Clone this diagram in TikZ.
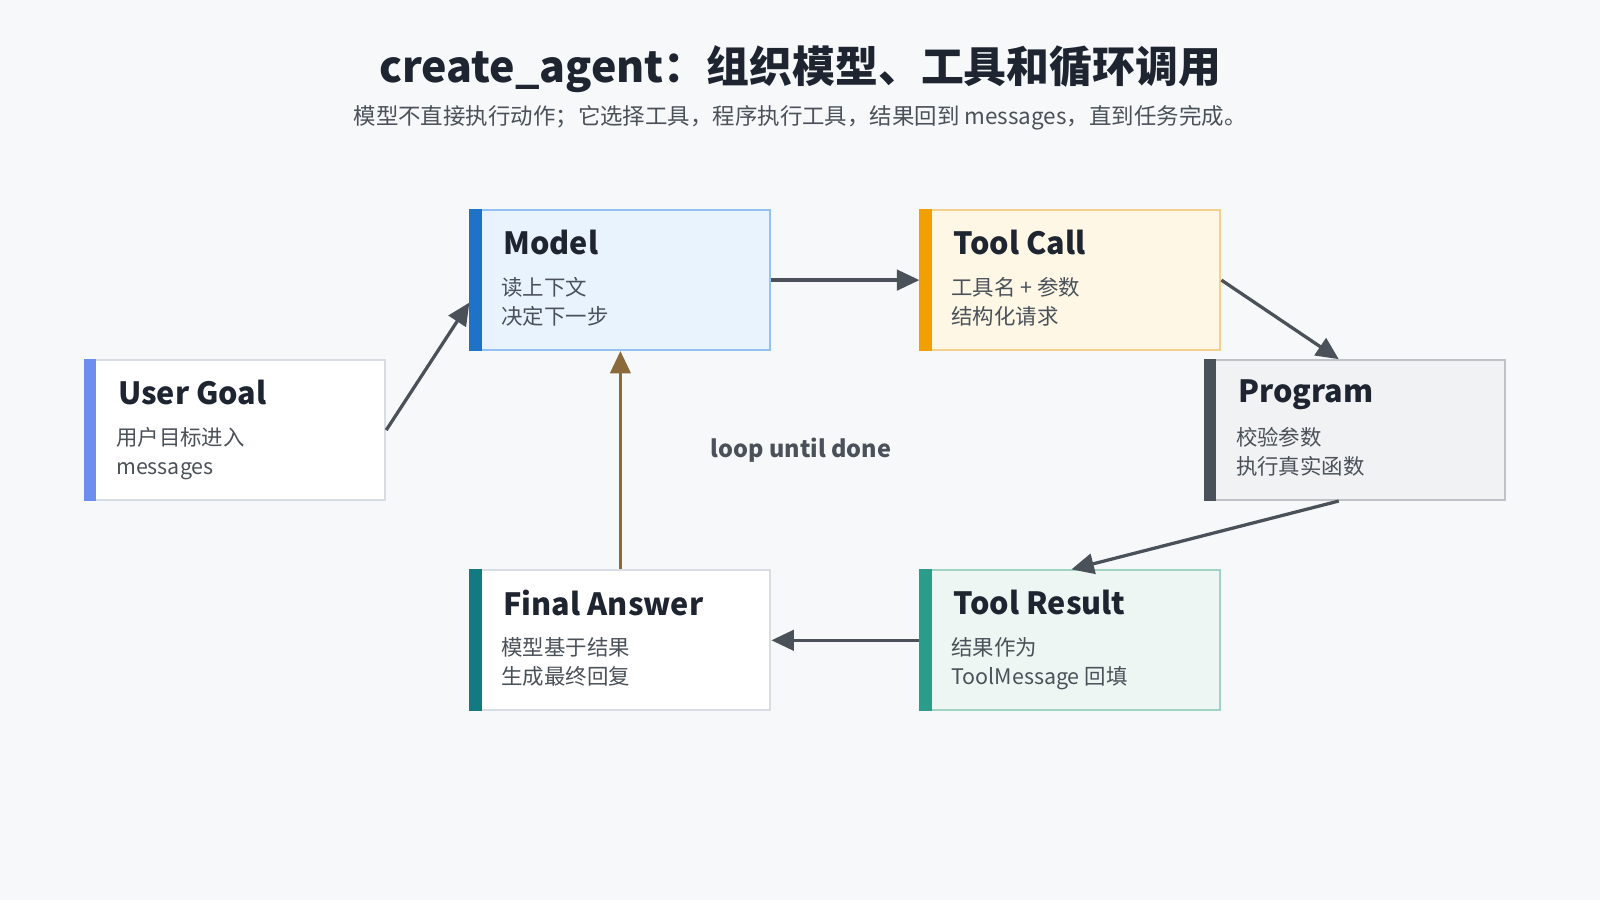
\documentclass[tikz,border=0pt]{standalone}
\usepackage{fontspec}
\setmainfont{Noto Sans CJK SC}
\usetikzlibrary{calc,arrows.meta}
\definecolor{bg}{HTML}{F6F8FA}
\definecolor{ink}{HTML}{1F2530}
\definecolor{sub}{HTML}{4A5159}
\definecolor{arr}{HTML}{4A5159}
\definecolor{brn}{HTML}{8A6A3A}
\begin{document}
\begin{tikzpicture}[x=0.5pt,y=-0.5pt,
  box/.style={draw,line width=1pt,minimum width=147pt,minimum height=68.5pt,inner sep=0pt},
  ttl/.style={anchor=north west,font=\fontsize{15}{17}\selectfont\bfseries,text=ink,inner sep=0pt},
  bdy/.style={anchor=north west,font=\fontsize{10.5}{14.5}\selectfont,text=sub,inner sep=0pt,align=left},
  con/.style={draw=arr,line width=1.6pt,-{Triangle[length=11pt,width=10pt]}}]
\fill[bg] (0,0) rectangle (1568,882);
\useasboundingbox (0,0) rectangle (1568,882);
\node[font=\fontsize{21}{24}\selectfont\bfseries,text=ink] (t) at (784,68) {create\_agent：组织模型、工具和循环调用};
\node[font=\fontsize{11}{13}\selectfont,text=sub] (s) at (784,115) {模型不直接执行动作；它选择工具，程序执行工具，结果回到 messages，直到任务完成。};
% boxes: name, center, fill, border, accent, title, body
\newcommand\mybox[8]{%
  \node[box,fill=#3,draw=#4] (#1) at (#2) {};
  \fill[#5] (#1.north west) rectangle ($(#1.south west)+(12,0)$);
  \node[ttl] (#1t) at ($(#1.north west)+(33,20)$) {#6};
  \node[bdy] (#1b) at ($(#1.north west)+(31,66)$) {#7\\#8};}
\definecolor{mF}{HTML}{E8F3FE}\definecolor{mB}{HTML}{94C2F0}\definecolor{mA}{HTML}{1E73C8}
\definecolor{cF}{HTML}{FEF7E6}\definecolor{cB}{HTML}{F3D08C}\definecolor{cA}{HTML}{F0A000}
\definecolor{pF}{HTML}{F1F2F4}\definecolor{pB}{HTML}{BFC3C8}\definecolor{pA}{HTML}{4A5159}
\definecolor{rF}{HTML}{EDF6F2}\definecolor{rB}{HTML}{A0D4C2}\definecolor{rA}{HTML}{2A9D8A}
\definecolor{fB}{HTML}{D8DDE3}\definecolor{fA}{HTML}{127A80}
\definecolor{uA}{HTML}{6B8EF0}
\mybox{ug}{230.5,421.5}{white}{fB}{uA}{User Goal}{用户目标进入}{messages}
\mybox{m}{608,274.5}{mF}{mB}{mA}{Model}{读上下文}{决定下一步}
\mybox{tc}{1049,274.5}{cF}{cB}{cA}{Tool Call}{工具名 + 参数}{结构化请求}
\mybox{p}{1328,421.5}{pF}{pB}{pA}{Program}{校验参数}{执行真实函数}
\mybox{tr}{1049,627.5}{rF}{rB}{rA}{Tool Result}{结果作为}{ToolMessage 回填}
\mybox{fa}{608,627.5}{white}{fB}{fA}{Final Answer}{模型基于结果}{生成最终回复}
\draw[con] (ug.east) -- ($(m.west)+(0,22)$);
\draw[con] (m.east) -- (tc.west);
\draw[con] (tc.east) -- ($(p.north)+(-16,0)$);
\draw[con] ($(p.south)+(-16,0)$) -- ($(tr.north)+(1,0)$);
\draw[con] (tr.west) -- (fa.east);
\draw[con,draw=brn] (fa.north) -- (m.south);
\node[font=\fontsize{11.5}{13}\selectfont\bfseries,text=sub] (l) at (785,441) {loop until done};
\end{tikzpicture}
\end{document}
